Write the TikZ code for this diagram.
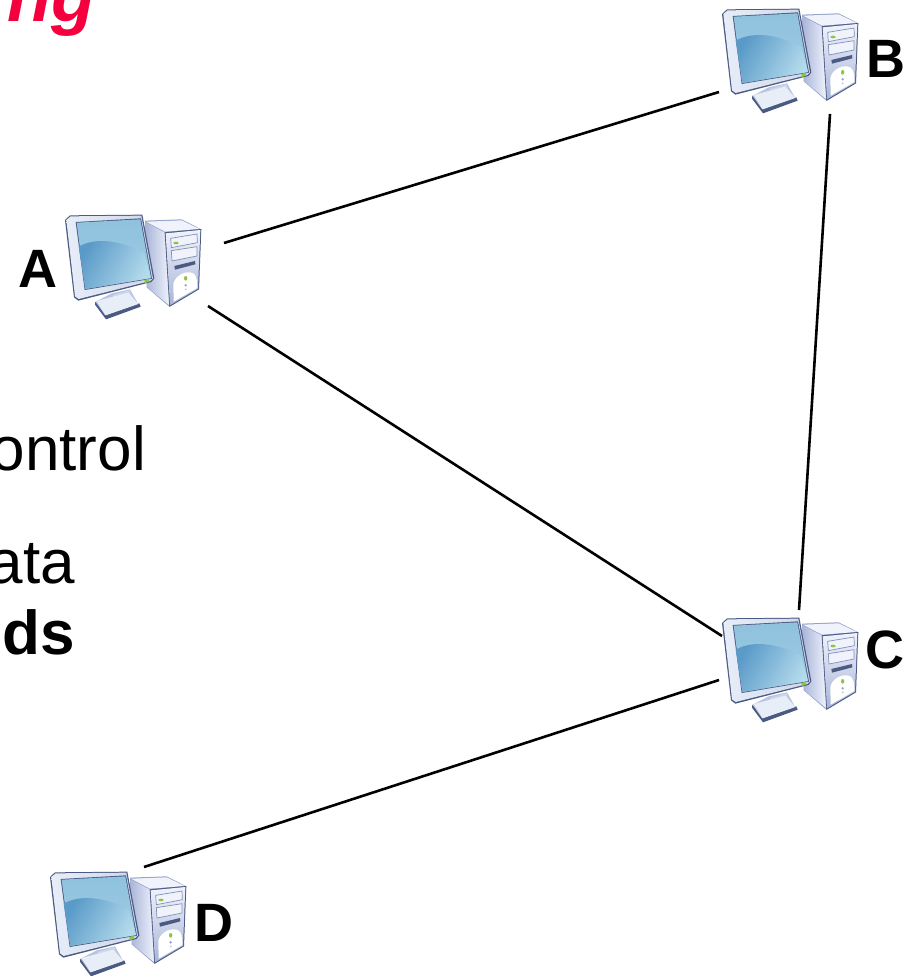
\documentclass[tikz,border=0pt]{standalone}
\usepackage{fontspec}
\setmainfont{Liberation Sans}
\definecolor{pinkred}{HTML}{F5003F}
\definecolor{frameL}{HTML}{E8EEF8}
\definecolor{frameD}{HTML}{B8C4E0}
\definecolor{edgeD}{HTML}{4A5A82}
\definecolor{screenT}{HTML}{8FC2DE}
\definecolor{screenB}{HTML}{5A9AC8}
\definecolor{screenG}{HTML}{B4DBEC}
\definecolor{towerL}{HTML}{F0F3FC}
\definecolor{towerD}{HTML}{A8B4D8}
\definecolor{ledG}{HTML}{8CC63F}
\tikzset{
  link/.style={draw=black,line width=2.6pt},
  label/.style={font=\bfseries\fontsize{54}{54}\selectfont,inner sep=0pt,anchor=base},
  big/.style={font=\fontsize{62}{62}\selectfont,inner sep=0pt,anchor=base east},
  bigb/.style={font=\bfseries\fontsize{62}{62}\selectfont,inner sep=0pt,anchor=base east},
  host/.style={minimum width=135pt,minimum height=108pt,inner sep=0pt},
  computer/.pic={
    % tower side and top
    \fill[towerD!80!edgeD,line join=round] (285,62) -- (395,58) -- (454,88) -- (345,100) -- (358,320) -- (290,262) -- cycle;
    \shade[left color=towerD,right color=towerL] (285,66) -- (345,98) -- (358,316) -- (292,262) -- cycle;
    \fill[towerL] (288,65) -- (395,61) -- (449,87) -- (345,95) -- cycle;
    % tower front
    \fill[edgeD] (344,97) -- (454,87) -- (447,268) -- (358,321) -- cycle;
    \shade[top color=towerL,bottom color=towerD] (347,100) -- (451,90) -- (444,266) -- (360,316) -- cycle;
    % bays
    \fill[towerL,draw=towerD!60!edgeD,line width=.7pt] (362,115) -- (441,102) -- (442,128) -- (364,143) -- cycle;
    \fill[towerL,draw=towerD!60!edgeD,line width=.7pt] (364,152) -- (441,140) -- (441,168) -- (366,183) -- cycle;
    \fill[edgeD] (373,198) -- (435,183) -- (436,193) -- (375,209) -- cycle;
    \fill[white] (371,305) -- (370,252) .. controls (375,225) and (410,210) .. (430,220) .. controls (440,228) and (442,240) .. (442,264) -- cycle;
    \fill[ledG] (378,129) ellipse (8 and 4);
    \fill[ledG] (407,235) ellipse (5 and 7);
    \fill[frameD!70!edgeD] (407,256) circle (4);
    \fill[frameD] (407,268) circle (3);
    % stand
    \fill[frameD] (185,280) -- (240,268) -- (268,318) -- (165,352) -- (137,305) -- cycle;
    \fill[frameD!70!white] (188,285) -- (238,270) -- (245,290) -- (195,305) -- cycle;
    \fill[edgeD] (136,305) -- (165,346) -- (268,310) -- (272,320) -- (168,358) -- (135,314) -- cycle;
    \fill[frameL] (140,303) -- (235,278) -- (265,312) -- (167,346) -- cycle;
    % monitor
    \fill[edgeD,line join=round] (45,60) -- (60,46) -- (277,44) -- (313,235) -- (304,246) -- (85,302) -- (72,292) -- cycle;
    \shade[left color=frameL,right color=frameD!70!white] (49,60) -- (62,49) -- (274,47) -- (309,235) -- (301,243) -- (86,297) -- (75,289) -- cycle;
    \fill[edgeD] (77,66) -- (273,55) -- (306,236) -- (104,270) -- cycle;
    \shade[top color=screenT,bottom color=screenT!85!white] (80,68) -- (271,58) -- (303,234) -- (106,267) -- cycle;
    \shade[left color=screenB,right color=screenG,shading angle=60] (86,140) .. controls (130,115) and (200,115) .. (282,158) -- (303,234) -- (106,267) -- cycle;
    \fill[ledG] (283,240) -- (296,237) -- (298,245) -- (285,249) -- cycle;
  }
}
\begin{document}
\begin{tikzpicture}[x=1pt,y=-1pt]
\useasboundingbox (0,0) rectangle (912,976);
\clip (0,0) rectangle (912,976);
\fill[white] (0,0) rectangle (912,976);

\node[font=\bfseries\itshape\fontsize{72}{72}\selectfont,text=pinkred,inner sep=0pt,anchor=base east] (title) at (96,22) {ng};
\node[big] (t1) at (146,470) {ontrol};
\node[big] (t2) at (75,583) {ata};
\node[bigb] (t3) at (75,654) {ds};

\node[host] (A) at (132.5,267) {};
\node[host] (B) at (789.5,61) {};
\node[host] (C) at (789.5,670) {};
\node[host] (D) at (117.5,924) {};

\pic[scale=1/3] at (50,200) {computer};
\pic[scale=1/3] at (707,-6) {computer};
\pic[scale=1/3] at (707,603) {computer};
\pic[scale=1/3] at (35,857) {computer};

\node[label] (la) at (38,287) {A};
\node[label] (lb) at (886,78) {B};
\node[label] (lc) at (885,668) {C};
\node[label] (ld) at (214,941) {D};

\coordinate (ab) at (224,243);
\coordinate (ba) at (719,92);
\coordinate (bc) at (830,114);
\coordinate (cb) at (799,610);
\coordinate (ac) at (208,306);
\coordinate (ca) at (722,636);
\coordinate (cd) at (719,680);
\coordinate (dc) at (144,867);
\draw[link] (ab) -- (ba);
\draw[link] (bc) -- (cb);
\draw[link] (ac) -- (ca);
\draw[link] (cd) -- (dc);
\end{tikzpicture}
\end{document}
